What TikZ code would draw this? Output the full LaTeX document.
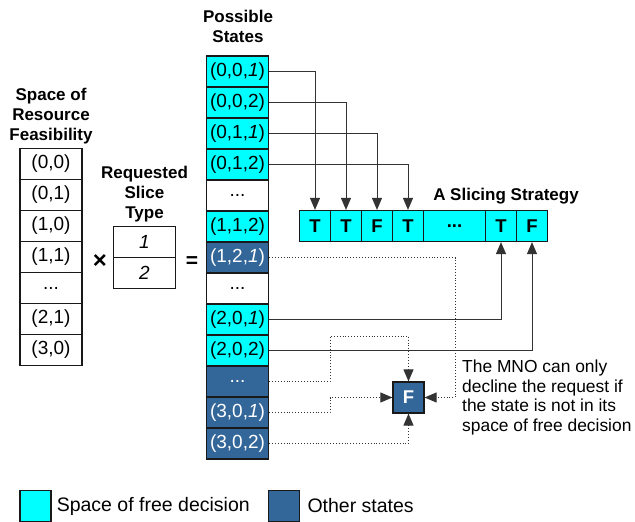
\documentclass[tikz,border=0pt]{standalone}
\usepackage{fontspec}
\setmainfont{Liberation Sans}
\usetikzlibrary{positioning,arrows.meta}
\definecolor{freecyan}{HTML}{00FFFF}
\definecolor{otherblue}{HTML}{336699}

\begin{document}
\begin{tikzpicture}[x=1pt, y=-1pt, node distance=31pt,
  >={Triangle[length=12pt,width=10pt]},
  cell/.style={draw=black!90, line width=1.2pt, minimum width=62pt, minimum height=31pt, inner sep=0pt, font=\fontsize{19}{22}\selectfont},
  free/.style={cell, fill=freecyan},
  other/.style={cell, fill=otherblue, text=white},
  bit/.style={free, minimum width=31pt, font=\fontsize{18.5}{22}\selectfont\bfseries},
  title/.style={align=center, inner sep=0pt, font=\fontsize{17}{20}\selectfont\bfseries},
  link/.style={->, line width=0.9pt, black!80},
  maybe/.style={link, dotted}]
\useasboundingbox (0,0) rectangle (635,522);

% space of resource feasibility
\node (rtitle) [title] at (51,116) {Space of\\Resource\\Feasibility};
\node (r1) [cell] at (51,164) {(0,0)};
\node (r2) [cell, below of=r1] {(0,1)};
\node (r3) [cell, below of=r2] {(1,0)};
\node (r4) [cell, below of=r3] {(1,1)};
\node (r5) [cell, below of=r4] {...};
\node (r6) [cell, below of=r5] {(2,1)};
\node (r7) [cell, below of=r6] {(3,0)};

\node (times) [font=\fontsize{24}{26}\selectfont\bfseries] at (100,262) {×};

% requested slice type
\node (ttitle) [title] at (144.5,194) {Requested\\Slice\\Type};
\node (t1) [cell] at (144.5,242) {\textit{1}};
\node (t2) [cell, below of=t1] {\textit{2}};

\node (equals) [font=\fontsize{21}{24}\selectfont\bfseries] at (192,262) {=};

% possible states
\node (stitle) [title] at (238,26) {Possible\\States};
\node (s1) [free] at (237.5,71.5) {(0,0,\textit{1})};
\node (s2) [free, below of=s1] {(0,0,2)};
\node (s3) [free, below of=s2] {(0,1,\textit{1})};
\node (s4) [free, below of=s3] {(0,1,2)};
\node (s5) [cell, below of=s4] {...};
\node (s6) [free, below of=s5] {(1,1,2)};
\node (s7) [other, below of=s6] {(1,2,\textit{1})};
\node (s8) [cell, below of=s7] {...};
\node (s9) [free, below of=s8] {(2,0,\textit{1})};
\node (s10) [free, below of=s9] {(2,0,2)};
\node (s11) [other, below of=s10] {...};
\node (s12) [other, below of=s11] {(3,0,\textit{1})};
\node (s13) [other, below of=s12] {(3,0,2)};

% a slicing strategy
\node (btitle) [title] at (506,196) {A Slicing Strategy};
\node (c1) [bit] at (315,226) {T};
\node (c2) [bit, right of=c1] {T};
\node (c3) [bit, right of=c2] {F};
\node (c4) [bit, right of=c3] {T};
\node (c5) [bit, minimum width=62pt, right of=c4, xshift=15.5pt] {...};
\node (c6) [bit, right of=c5, xshift=15.5pt] {T};
\node (c7) [bit, right of=c6] {F};

% forced decline
\node (F) [other, bit, fill=otherblue, text=white] at (408.5,397.5) {F};
\node (note) [align=left, anchor=west, inner sep=0pt, font=\fontsize{17.4}{19.8}\selectfont] at (462,397.5)
  {The MNO can only\\decline the request if\\the state is not in its\\space of free decision};
\coordinate (d1) at (455,397.5);
\coordinate (d2) at (330,336);
\coordinate (d3) at (330,397.5);

\draw[link] (s1) -| (c1);
\draw[link] (s2) -| (c2);
\draw[link] (s3) -| (c3);
\draw[link] (s4) -| (c4);
\draw[link] (s9) -| (c6);
\draw[link] (s10) -| (c7);
\draw[maybe] (s7) -| (d1) -- (F);
\draw[maybe] (s11) -| (d2) -| (F);
\draw[maybe] (s12) -| (d3) -- (F);
\draw[maybe] (s13) -| (F);

% legend
\node (key1) [free, minimum width=31pt] at (35.5,506) {};
\node (key1txt) [right=5pt of key1, inner sep=0pt, font=\fontsize{19.5}{22}\selectfont] {Space of free decision};
\node (key2) [other, minimum width=31pt] at (283.7,506) {};
\node (key2txt) [right=7.5pt of key2, inner sep=0pt, font=\fontsize{19.5}{22}\selectfont] {Other states};
\end{tikzpicture}
\end{document}
